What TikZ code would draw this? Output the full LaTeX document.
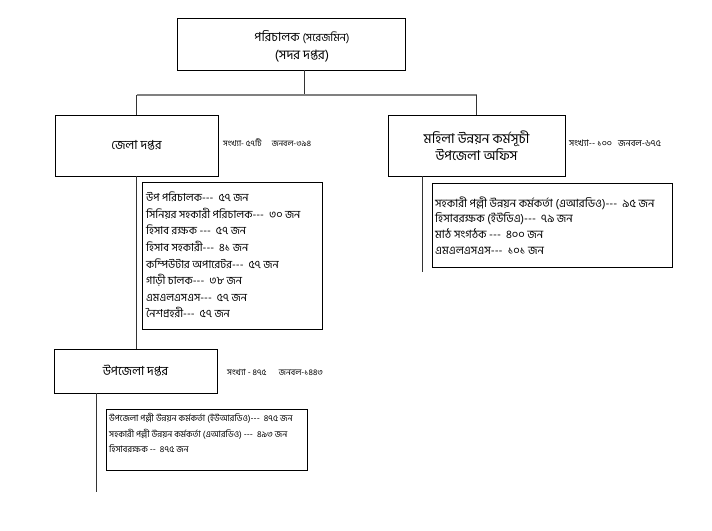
\documentclass[tikz,border=0pt]{standalone}
\usepackage{fontspec}
\newfontfamily\bn[Script=Bengali]{Hind Siliguri}
\begin{document}
\begin{tikzpicture}[x=1pt,y=-1pt,
  box/.style={draw=black, line width=0.8pt, inner sep=0pt},
  conn/.style={draw=black!80, line width=1pt},
  bus/.style={draw=black!50, line width=1.6pt},
  lst/.style={align=left, inner sep=0pt, anchor=west},
  lbl/.style={font=\bn\fontsize{8.2}{9}\selectfont, inner sep=0pt, anchor=west},
  ttl/.style={font=\bn\fontsize{12.5}{17}\selectfont, align=center}]
\useasboundingbox (0,0) rectangle (712,530);
\fill[white] (0,0) rectangle (712,530);

% boxes
\node[box, minimum width=228pt, minimum height=52pt] (top) at (291,44) {};
\node[align=center, inner sep=0pt, font=\bn\fontsize{12.5}{18}\selectfont] (toptxt) at (302,46) {পরিচালক {\fontsize{11}{18}\selectfont(সরেজমিন)}\\{\fontsize{13}{18}\selectfont(সদর দপ্তর)}};

\node[box, ttl, minimum width=163pt, minimum height=61pt] (jela) at (136.5,145.5) {জেলা দপ্তর};
\node[box, ttl, font=\bn\fontsize{13.5}{17}\selectfont, minimum width=177pt, minimum height=61pt] (mohila) at (476.5,145.5) {মহিলা উন্নয়ন কর্মসূচী\\উপজেলা অফিস};
\node[box, ttl, minimum width=163pt, minimum height=44pt] (upa) at (135.5,371) {উপজেলা দপ্তর};

% labels
\node[lbl] (jelalbl) at (223,143) {সংখ্যা- ৫৭টি \quad জনবল-৩৯৪};
\node[lbl, font=\bn\fontsize{9}{10}\selectfont] (mohilalbl) at (569,143) {সংখ্যা-- ১০০ \ \ জনবল-৬৭৫};
\node[lbl, font=\bn\fontsize{8.5}{10}\selectfont] (upalbl) at (227,372) {সংখ্যা - ৪৭৫ \quad\ জনবল-১৪৪৩};

% lists
\node[box, minimum width=180pt, minimum height=147pt] (jlist) at (232,255.5) {};
\node[lst, font=\bn\fontsize{11}{16.6}\selectfont] (jlisttxt) at (146,255) {উপ পরিচালক--- \ ৫৭ জন\\সিনিয়র সহকারী পরিচালক--- \ ৩০ জন\\হিসাব রক্ষক --- \ ৫৭ জন\\হিসাব সহকারী--- \ ৪১ জন\\কম্পিউটার অপারেটর--- \ ৫৭ জন\\গাড়ী চালক--- \ ৩৮ জন\\এমএলএসএস--- \ ৫৭ জন\\নৈশপ্রহরী--- \ ৫৭ জন};

\node[box, minimum width=240pt, minimum height=84pt] (mlist) at (552,225) {};
\node[lst, font=\bn\fontsize{11.3}{15.7}\selectfont] (mlisttxt) at (435,225.5) {সহকারী পল্লী উন্নয়ন কর্মকর্তা (এআরডিও)--- \ ৯৫ জন\\হিসাবরক্ষক (ইউডিএ)--- \ ৭৯ জন\\মাঠ সংগঠক --- \ ৪০০ জন\\এমএলএসএস--- \ ১০১ জন};

\node[box, minimum width=201pt, minimum height=61pt] (ulist) at (206.5,439.5) {};
\node[lst, font=\bn\fontsize{8.8}{15.2}\selectfont] (ulisttxt) at (109,433) {উপজেলা পল্লী উন্নয়ন কর্মকর্তা (ইউআরডিও)--- \ ৪৭৫ জন\\সহকারী পল্লী উন্নয়ন কর্মকর্তা (এআরডিও) --- \ ৪৯৩ জন\\হিসাবরক্ষক -- \ ৪৭৫ জন};

% connectors
\coordinate (busC) at (304,95);
\coordinate (busL) at (136.5,95);
\coordinate (busR) at (476.5,95);
\coordinate (mend) at (422,272);
\coordinate (uend) at (96,492);
\draw[conn] (top.south -| busC) -- (busC);
\draw[bus] (busL) -- (busR);
\draw[conn] (busL) -- (jela.north);
\draw[conn] (busR) -- (mohila.north);
\draw[conn] (jela.south) -- (jela.south |- upa.north);
\draw[conn] (mohila.south -| mend) -- (mend);
\draw[conn] (upa.south -| uend) -- (uend);
\end{tikzpicture}
\end{document}
